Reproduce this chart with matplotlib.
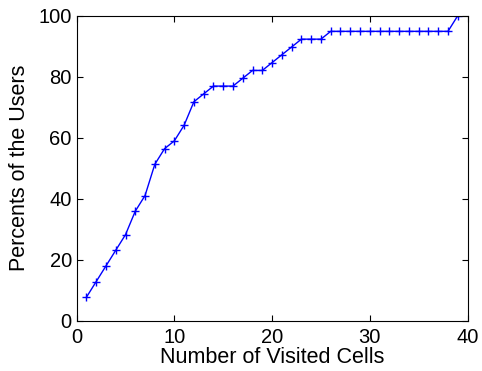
from matplotlib import pyplot as plt

# data: share of users vs number of visited cells
cells = list(range(1, 40))
percents = [7.69, 12.82, 17.95, 23.08, 28.21, 35.90, 41.03, 51.28, 56.41, 58.97,
            64.10, 71.79, 74.36, 76.92, 76.92, 76.92, 79.49, 82.05, 82.05, 84.62,
            87.18, 89.74, 92.31, 92.31, 92.31, 94.87, 94.87, 94.87, 94.87, 94.87,
            94.87, 94.87, 94.87, 94.87, 94.87, 94.87, 94.87, 94.87, 100.0]

plt.rcParams['font.family'] = ['Liberation Sans', 'DejaVu Sans']

fig = plt.figure(figsize=(4.82, 3.71), dpi=100)
ax = fig.add_axes([0.159, 0.1356, 0.811, 0.8221])

ax.plot(cells, percents, color='blue', marker='+', markersize=6, linewidth=1)

ax.set_xlim(0, 40)
ax.set_ylim(0, 100)
ax.set_xticks([0, 10, 20, 30, 40])
ax.set_yticks([0, 20, 40, 60, 80, 100])
ax.tick_params(direction='in', top=True, right=True, labelsize=14.5, length=4)
ax.tick_params(axis='y', pad=3.5)
ax.tick_params(axis='x', pad=5)
for s in ax.spines.values():
    s.set_linewidth(0.8)

ax.set_xlabel("Number of Visited Cells", fontsize=15.5, labelpad=0)
ax.set_ylabel("Percents of the Users", fontsize=15.5, labelpad=6)

plt.savefig("out.png", dpi=100)
